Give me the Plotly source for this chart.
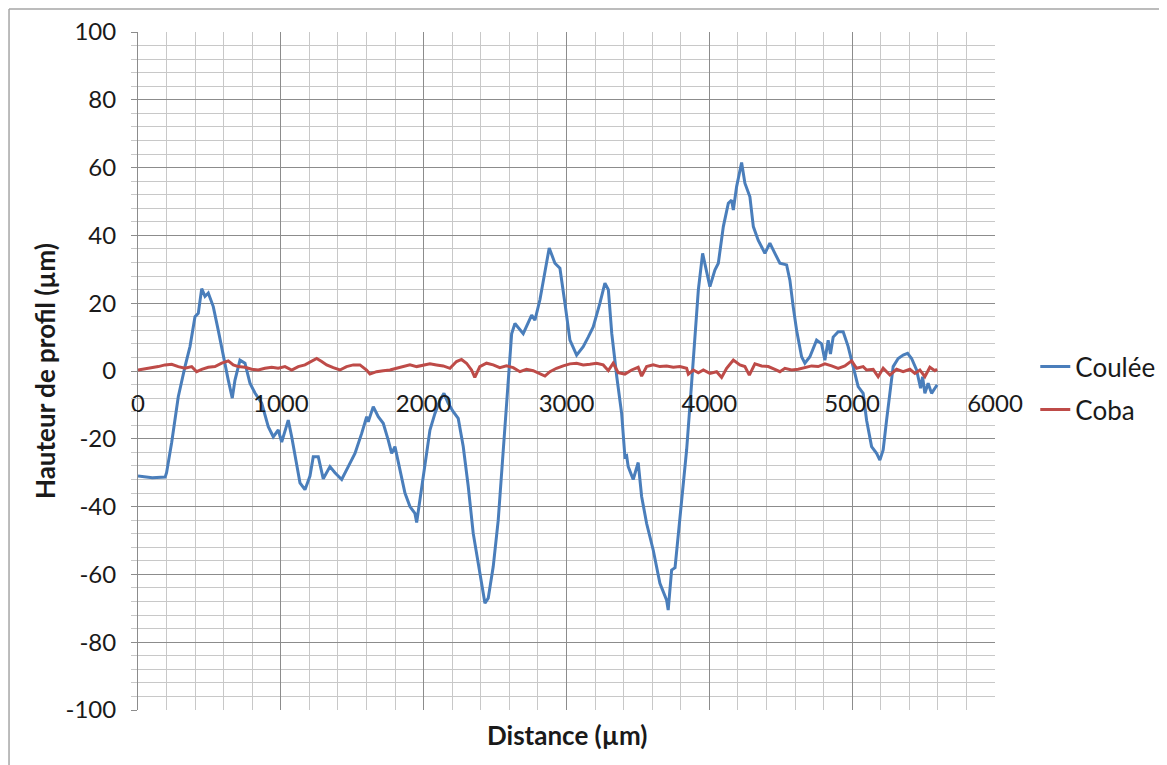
import plotly.graph_objects as go

# Coulée profile (blue)
coulee_x = [0, 100, 190, 200, 236, 282, 329, 364, 399, 422, 446, 469, 492, 527, 562, 597, 632, 660,
            679, 714, 749, 784, 819, 866, 912, 947, 982, 1006, 1052, 1076, 1111, 1134, 1169, 1204,
            1227, 1262, 1297, 1344, 1379, 1426, 1472, 1519, 1566, 1601, 1612, 1647, 1682, 1717,
            1752, 1776, 1799, 1834, 1869, 1904, 1939, 1951, 1974, 2009, 2044, 2079, 2114, 2142,
            2172, 2207, 2242, 2277, 2312, 2347, 2371, 2406, 2429, 2452, 2487, 2522, 2557, 2592,
            2616, 2639, 2697, 2756, 2779, 2814, 2849, 2879, 2919, 2954, 2989, 3024, 3071, 3117,
            3152, 3187, 3234, 3269, 3293, 3317, 3352, 3386, 3409, 3421, 3432, 3467, 3502, 3526,
            3561, 3607, 3654, 3701, 3712, 3736, 3760, 3794, 3841, 3876, 3900, 3923, 3953, 3981,
            4004, 4039, 4063, 4098, 4133, 4156, 4168, 4191, 4226, 4249, 4284, 4308, 4342, 4389,
            4424, 4459, 4494, 4541, 4564, 4587, 4611, 4646, 4669, 4704, 4751, 4786, 4809, 4832,
            4848, 4867, 4902, 4937, 4972, 5007, 5042, 5077, 5101, 5136, 5171, 5194, 5217, 5241,
            5264, 5287, 5322, 5357, 5388, 5416, 5451, 5479, 5493, 5509, 5532, 5556, 5579, 5595]
coulee_y = [-31, -31.5, -31.3, -30, -21, -7.6, 1.3, 7.2, 16, 17, 24.3, 22, 23, 19, 12, 4.2, -2.7, -8,
            -2.7, 3.2, 2.3, -3.6, -6.5, -9.5, -16.4, -19.4, -17.4, -21, -14.5, -19.4, -27, -33, -35, -31,
            -25.3, -25.3, -31.8, -28.2, -30, -32, -28.2, -24.3, -18.4, -13.5, -15, -10.5, -13.5, -15.4,
            -20.4, -24.3, -22.3, -29.2, -36, -40, -42, -44.7, -38, -26.3, -17.4, -12.5, -8.6, -6.6,
            -9.5, -12, -14, -22.3, -34, -47.9, -53.8, -63.6, -68.5, -67, -57.7, -44, -24.3, -4.6,
            11, 14, 11, 16.5, 15, 21, 28.8, 36.3, 31.8, 30.3, 20, 9.1, 4.7, 7.2,
            10, 13, 20, 25.9, 24, 11, -1.7, -12.5, -25.3, -25, -28.2, -32, -27, -37,
            -45, -52.8, -62.6, -67.6, -70.5, -58.7, -58, -43, -23.3, -3.6, 10, 23.9, 34.7, 28.8,
            24.9, 29.8, 31.8, 42.6, 49.5, 50.4, 47.5, 54.4, 61.5, 55.4, 51.4, 42.6, 38.6, 34.7,
            37.7, 34.7, 31.8, 31.3, 26.8, 19, 12, 4.2, 2.3, 4.2, 9.1, 8, 3.2, 9.1,
            5, 10, 11.6, 11.6, 7.2, 1.3, -4.6, -6.6, -14.5, -22.3, -24.3, -26.3, -23.3, -14.5,
            -5.6, 1.3, 3.7, 4.7, 5.2, 3.7, 0.3, -5.1, -1.7, -6.6, -3.6, -6.6, -5.1, -4.1]

# Coba profile (red)
coba_x = [0, 72, 142, 189, 236, 282, 329, 376, 411, 446, 492, 539, 586, 632, 667, 702, 749, 796, 842,
          889, 936, 982, 1029, 1076, 1122, 1169, 1216, 1251, 1286, 1321, 1367, 1414, 1460, 1507, 1554,
          1600, 1624, 1670, 1717, 1764, 1810, 1857, 1904, 1951, 1997, 2044, 2090, 2137, 2184, 2230,
          2265, 2300, 2335, 2358, 2393, 2440, 2487, 2533, 2580, 2627, 2674, 2720, 2767, 2814, 2849,
          2884, 2930, 2977, 3024, 3071, 3117, 3164, 3210, 3257, 3293, 3327, 3362, 3409, 3456, 3502,
          3526, 3561, 3607, 3654, 3701, 3748, 3794, 3841, 3853, 3888, 3923, 3958, 4004, 4051, 4086,
          4121, 4168, 4214, 4249, 4280, 4319, 4366, 4413, 4459, 4494, 4529, 4576, 4622, 4669, 4716,
          4762, 4809, 4856, 4902, 4949, 4996, 5031, 5077, 5101, 5147, 5182, 5217, 5264, 5311, 5357,
          5404, 5439, 5474, 5509, 5544, 5579, 5595]
coba_y = [0.3, 0.7, 1.3, 1.8, 2.0, 1.3, 0.8, 1.3, -0.2, 0.5, 1.1, 1.3, 2.3, 3.0, 1.8, 1.3, 1.1, 0.5, 0.3,
          0.8, 1.1, 0.8, 1.3, 0.3, 1.3, 1.8, 2.8, 3.7, 2.8, 1.8, 1.0, 0.3, 1.3, 1.8, 1.8,
          0.3, -0.9, -0.2, 0.1, 0.3, 0.8, 1.3, 1.8, 1.3, 1.8, 2.1, 1.8, 1.5, 0.8, 2.8,
          3.4, 2.3, 0.3, -1.9, 1.3, 2.3, 1.8, 1.0, 1.5, 1.0, -0.2, 0.5, 0.1, -0.7, -1.5,
          -0.2, 0.8, 1.5, 2.1, 2.3, 1.8, 2.0, 2.3, 1.8, 0.1, 2.3, -0.5, -0.9, 0.3, 1.1,
          -1.5, 1.3, 1.8, 1.3, 1.5, 1.1, 1.3, 0.8, -0.9, 0.3, -0.5, 0.3, -0.7, -0.2, -1.9,
          0.8, 3.2, 1.8, 1.3, -1.2, 2.1, 1.5, 1.3, 0.5, -0.2, 0.8, 0.3, 0.5, 1.1, 1.5,
          1.3, 2.1, 1.5, 0.8, 1.5, 3.0, 0.8, 1.3, 0.3, 0.5, -1.7, 0.8, -1.2, 0.5, -0.2,
          0.5, -0.7, 0.3, -1.7, 1.1, 0.1, 0.5]

# tick labels (Excel style, plain hyphen minus)
y_ticks = [-100, -80, -60, -40, -20, 0, 20, 40, 60, 80, 100]
y_labels = ["-100", "-80", "-60", "-40", "-20", "0", "20", "40", "60", "80", "100"]
x_ticks = [0, 1000, 2000, 3000, 4000, 5000, 6000]
x_labels = ["0", "1000", "2000", "3000", "4000", "5000", "6000"]

font = "Lato, 'Open Sans', sans-serif"
major = "#8c8c8c"
minor = "#c8c8c8"

fig = go.Figure()
fig.add_trace(go.Scatter(x=coulee_x, y=coulee_y, mode="lines", name="Coulée",
                         line=dict(color="#4a7ebb", width=3), legendgroup="a"))
fig.add_trace(go.Scatter(x=coba_x, y=coba_y, mode="lines", name="Coba",
                         line=dict(color="#be4b48", width=3), legendgroup="b"))

fig.update_layout(
    width=1167, height=765,
    margin=dict(l=130, r=180, t=24, b=63),
    paper_bgcolor="white", plot_bgcolor="white",
    font=dict(family=font, size=24, color="#1a1a1a"),
    showlegend=True,
    legend=dict(x=1.047, xanchor="left", y=0.541, yanchor="top",
                font=dict(size=26), tracegroupgap=6, bgcolor="rgba(0,0,0,0)"),
    xaxis=dict(range=[0, 6000], tickvals=x_ticks, ticktext=x_labels, showgrid=True,
               gridcolor=major, gridwidth=1,
               minor=dict(dtick=200, tick0=0, showgrid=True, gridcolor=minor, gridwidth=1),
               anchor="free", position=0.5, showline=False, ticks="", zeroline=False,
               ticklabelstandoff=16, automargin=False),
    yaxis=dict(range=[-100, 100], tickvals=y_ticks, ticktext=y_labels, showgrid=True,
               gridcolor=major, gridwidth=1,
               minor=dict(dtick=4, tick0=0, showgrid=True, gridcolor=minor, gridwidth=1,
                          ticks="outside", ticklen=6, tickcolor=minor),
               ticks="outside", ticklen=6, tickcolor=major, showline=True, linecolor=major,
               zeroline=False, ticklabelstandoff=10, automargin=False),
    annotations=[
        dict(text="<b>Distance (µm)</b>", x=0.5, y=-0.037, xref="paper", yref="paper",
             xanchor="center", yanchor="middle", showarrow=False, font=dict(size=26)),
        dict(text="<b>Hauteur de profil (µm)</b>", x=-0.1085, y=0.5, xref="paper", yref="paper",
             xanchor="center", yanchor="middle", textangle=-90, showarrow=False, font=dict(size=26)),
    ],
    shapes=[
        dict(type="line", xref="paper", yref="paper", x0=-0.1505, x1=-0.1505, y0=-0.1, y1=1.034,
             line=dict(color="#a6a6a6", width=1.5), layer="above"),
        dict(type="line", xref="paper", yref="paper", x0=-0.1505, x1=1.22, y0=1.034, y1=1.034,
             line=dict(color="#a6a6a6", width=1.5), layer="above"),
    ],
)

fig.write_html("out.html")
